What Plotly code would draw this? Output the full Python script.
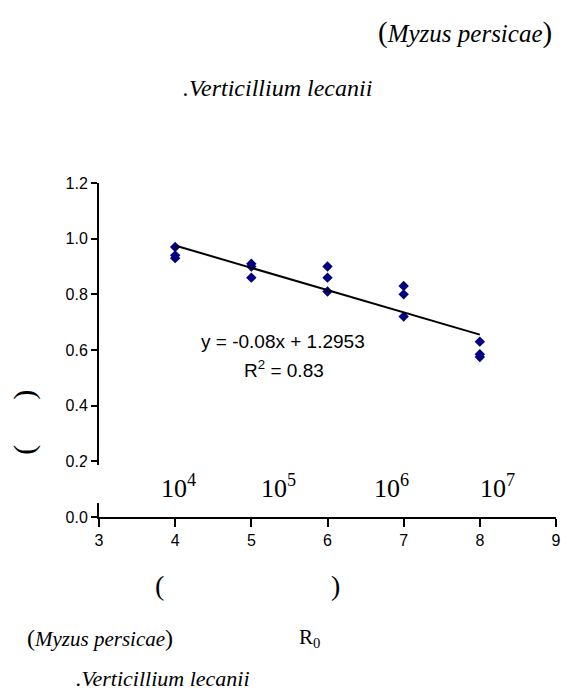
import plotly.graph_objects as go

# ---- data ----
dose_log = [4, 4, 4, 5, 5, 5, 6, 6, 6, 7, 7, 7, 8, 8, 8]
r0_values = [0.97, 0.94, 0.93, 0.91, 0.90, 0.86, 0.90, 0.86, 0.81,
             0.83, 0.80, 0.72, 0.63, 0.585, 0.575]
trend_slope = -0.08
trend_intercept = 1.2953
r_squared = 0.83
x_tick_vals = [3, 4, 5, 6, 7, 8, 9]
y_tick_vals = [0.0, 0.2, 0.4, 0.6, 0.8, 1.0, 1.2]
conc_labels = ["10<sup>4</sup>", "10<sup>5</sup>", "10<sup>6</sup>", "10<sup>7</sup>"]
conc_label_x = [4.05, 5.36, 6.84, 8.23]

SERIF = "Liberation Serif, Times New Roman, serif"
SANS = "Liberation Sans, Arial, sans-serif"

# plot area in page pixels
PL, PR, PT, PB = 99, 561, 183, 517

fig = go.Figure()

fig.add_trace(go.Scatter(
    x=dose_log, y=r0_values, mode="markers",
    marker=dict(symbol="diamond", size=8, color="#000080"),
    showlegend=False, hoverinfo="x+y"))

x_line = [min(dose_log), max(dose_log)]
y_line = [trend_slope * v + trend_intercept for v in x_line]
fig.add_trace(go.Scatter(
    x=x_line, y=y_line, mode="lines",
    line=dict(color="black", width=2),
    showlegend=False, hoverinfo="skip"))

ann = []


def px_ann(x, y, text, size, anchor="center", angle=0, family=SERIF):
    ann.append(dict(x=(x - PL) / (PR - PL), y=(PB - y) / (PB - PT),
                    xref="paper", yref="paper",
                    text=text, showarrow=False, xanchor=anchor, yanchor="middle",
                    textangle=angle,
                    font=dict(family=family, size=size, color="black")))


# equation
px_ann(285, 341, f"y = {trend_slope:g}x + {trend_intercept}", 19, family=SANS)
px_ann(286, 369, f"R<sup>2</sup> = {r_squared}", 19, family=SANS)
# concentration labels
for lx, lt in zip(conc_label_x, conc_labels):
    ann.append(dict(x=lx, y=0.108, xref="x", yref="y", text=lt, showarrow=False,
                    font=dict(family=SERIF, size=26, color="black")))

# top title lines
px_ann(559, 33, "<span style='font-size:29px'>(</span><i>Myzus persicae</i>"
                "<span style='font-size:29px'>)</span>", 25, "right")
px_ann(279, 88, "<i>.Verticillium lecanii</i>", 24)
# y-axis title (brackets only)
px_ann(23, 422, "(" + "\u00a0" * 6 + ")", 30, angle=-90)
# x-axis title pieces
px_ann(160, 585, "(", 28)
px_ann(338, 585, ")", 28)
px_ann(24, 638, "<span style='font-size:24px'>(</span><i>Myzus persicae</i>"
                "<span style='font-size:24px'>)</span>", 21, "left")
px_ann(312, 638, "R<sub>0</sub>", 21)
px_ann(74, 678, "<i>.Verticillium lecanii</i>", 22, "left")

fig.update_layout(
    width=568, height=691,
    margin=dict(l=99, r=7, t=183, b=174),
    paper_bgcolor="white", plot_bgcolor="white",
    annotations=ann,
    shapes=[dict(type="rect", xref="paper", yref="y", x0=-0.03, x1=0.02,
                 y0=0.05, y1=0.187, fillcolor="white", line=dict(width=0),
                 layer="above")],
    xaxis=dict(range=[3, 9], tickvals=x_tick_vals, showgrid=False, zeroline=False,
               showline=True, linecolor="black", linewidth=2,
               ticks="outside", ticklen=8, tickwidth=2, tickcolor="black",
               tickfont=dict(family=SANS, size=16, color="black")),
    yaxis=dict(range=[0, 1.2], tickvals=y_tick_vals, tickformat=".1f",
               showgrid=False, zeroline=False,
               showline=True, linecolor="black", linewidth=2,
               ticks="outside", ticklen=6, tickwidth=2, tickcolor="black",
               tickfont=dict(family=SANS, size=16, color="black")),
)

fig.write_html("out.html",
               config={"displayModeBar": False},
               post_script="document.body.style.margin='0';"
                           "document.body.style.overflow='hidden';")
